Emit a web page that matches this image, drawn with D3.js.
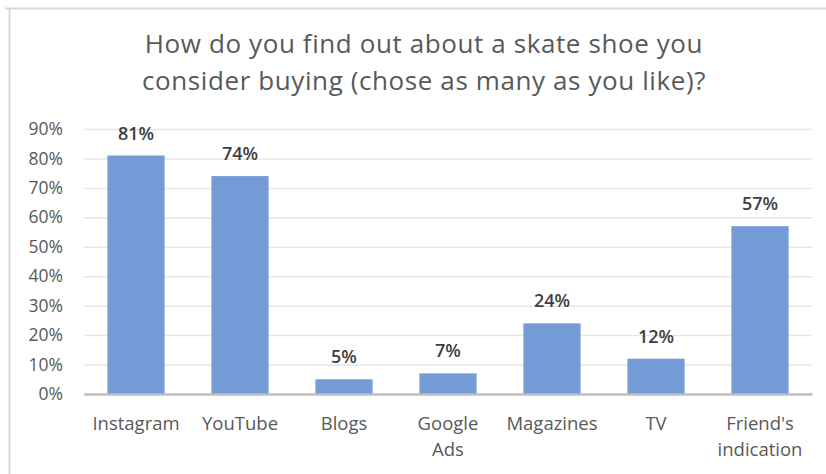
<!DOCTYPE html>
<html><head><meta charset="utf-8">
<script src="https://cdn.jsdelivr.net/npm/d3@7"></script>
<style>body{margin:0;background:#fff}svg{display:block}text{font-family:"Open Sans",sans-serif}</style>
</head><body>
<svg id="c" width="826" height="474"></svg>
<script>
const titleLines = ["How do you find out about a skate shoe you", "consider buying (chose as many as you like)?"];
const categories = ["Instagram", "YouTube", "Blogs", "Google Ads", "Magazines", "TV", "Friend's indication"];
const values = [81, 74, 5, 7, 24, 12, 57];
const yTicks = [0, 10, 20, 30, 40, 50, 60, 70, 80, 90];

const svg = d3.select("#c");
const W = 826, H = 474;
const m = {left: 84, right: 14, top: 129, bottom: 80};
const FONT = "'Open Sans',sans-serif";

// frame
svg.append("path").attr("d", `M5,8.5H826M9.5,8.5V474`).attr("stroke", "#d9d9d9").attr("stroke-width", 2).attr("fill", "none");

const x = d3.scaleBand().domain(categories).range([m.left, W - m.right]).paddingInner(0.45).paddingOuter(0.225);
const y = d3.scaleLinear().domain([0, 90]).range([H - m.bottom, m.top]);

// title
svg.append("g").selectAll("text").data(titleLines).join("text")
  .attr("x", 424).attr("y", (d, i) => 53 + i * 37)
  .attr("text-anchor", "middle").attr("font-size", 26).attr("letter-spacing", 0.6).attr("fill", "#595959").text(d => d);

// gridlines + y labels
const yAxis = d3.axisLeft(y).tickValues(yTicks).tickSize(-(W - m.right - m.left)).tickFormat(d => d + "%").tickPadding(21);
const gy = svg.append("g").attr("transform", `translate(${m.left},0)`).call(yAxis);
gy.select(".domain").remove();
gy.selectAll(".tick line").attr("stroke", "#e6e6e6").attr("stroke-width", 1.5);
gy.selectAll(".tick text").attr("font-size", 17.5).attr("fill", "#595959").attr("font-family", FONT);

// bars
svg.append("g").selectAll("rect").data(values).join("rect")
  .attr("x", (d, i) => x(categories[i])).attr("width", x.bandwidth())
  .attr("y", d => y(d)).attr("height", d => y(0) - y(d)).attr("fill", "#759bd6");

// value labels
svg.append("g").selectAll("text").data(values).join("text")
  .attr("x", (d, i) => x(categories[i]) + x.bandwidth() / 2).attr("y", d => y(d) - 16)
  .attr("text-anchor", "middle").attr("font-size", 18).attr("font-weight", 600).attr("fill", "#404040").text(d => d + "%");

// x axis
const xAxis = d3.axisBottom(x).tickSize(0).tickPadding(0);
const gx = svg.append("g").attr("transform", `translate(0,${y(0)})`).call(xAxis);
gx.select(".domain").attr("stroke", "#bfbfbf").attr("stroke-width", 2.5);
gx.selectAll(".tick text").attr("font-size", 18.5).attr("fill", "#595959").attr("font-family", FONT)
  .each(function(d) {
    const t = d3.select(this);
    t.text(null).attr("y", 0).attr("dy", null);
    const words = d.split(" ");
    const lines = (d.length > 9 && words.length > 1) ? words : [d];
    lines.forEach((w, i) => t.append("tspan").attr("x", 0).attr("y", 36 + i * 26).text(w));
  });
</script>
</body></html>
